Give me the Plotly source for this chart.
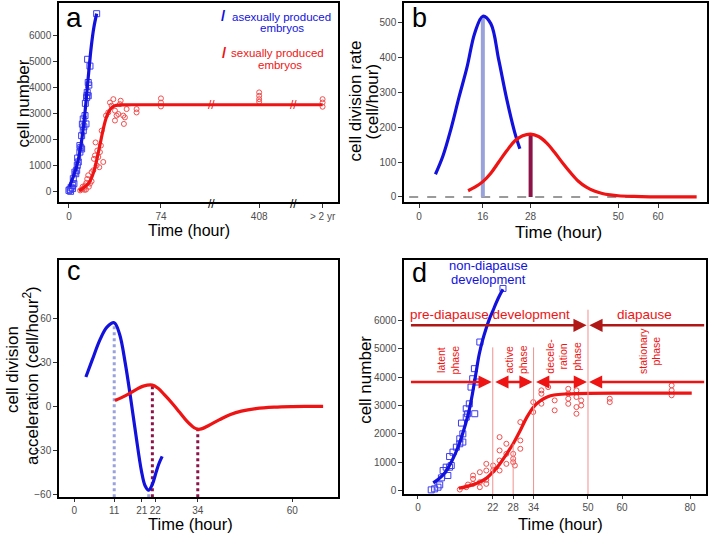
import plotly.graph_objects as go

# ---------------- data: panel a (cell number, broken time axis) ----------------
a_blue_t = [0, 0.8, 1.3, 1.8, 2.9, 3.0, 3.5, 4.0, 4.8, 5.5, 6.2, 6.7, 7.0, 7.5, 8.8, 8.8, 9.5,
            10.2, 10.2, 10.8, 11.5, 11.5, 12.0, 12.9, 13.2, 13.7, 14.2, 14.5, 14.7, 15.0, 15.5,
            15.5, 16.0, 16.9, 22.3]
a_blue_v = [60, 100, 25, 180, 130, 250, 510, 320, 760, 700, 830, 1020, 1300, 1150, 1530, 1780, 1700,
            1650, 2160, 2600, 2350, 2800, 2500, 2930, 3400, 2610, 3620, 3700, 3820, 5090, 3690,
            4200, 4100, 4830, 6840]
a_blue_fit_t = [0.5, 2, 4, 6, 8, 10, 12, 14, 16, 18, 20, 22.3]
a_blue_fit_v = [200, 400, 650, 950, 1350, 1900, 2650, 3600, 4650, 5600, 6300, 6840]

a_red_t = [9, 10.5, 11, 12, 12.5, 13, 13.7, 14, 14.7, 15.5, 16, 16.9, 18.2, 18.2, 19.6, 20.1, 20.9,
           21.4, 22.3, 22.8, 23.6, 24.4, 24.9, 25.7, 26.3, 27.6, 29.8, 31.6, 33.0, 34.3, 35.7,
           37.0, 37.0, 38.3, 39.7, 41.0, 41.6, 43.7, 44.2, 45.0, 46.4, 54.4, 54.4,
           74, 74, 74]
a_red_v = [60, 100, 200, 150, 80, 250, 90, 350, 500, 640, 200, 320, 410, 760, 830, 1270, 1400,
           1900, 1020, 1590, 1340, 950, 1530, 1780, 2350, 1150, 2930, 3050, 3430, 3310, 3560,
           2740, 3120, 2930, 2990, 3370, 3500, 2930, 2610, 2860, 3180, 3050, 3180,
           3590, 3430, 3280]
a_red_late = {"408": [3820, 3690, 3560, 3460], "> 2 yr": [3560, 3430, 3270]}
a_red_fit_t = [8, 10, 12, 14, 16, 18, 20, 22, 24, 26, 28, 30, 32, 34, 36, 38, 42, 50, 74]
a_red_fit_v = [50, 100, 170, 250, 350, 520, 780, 1150, 1600, 2050, 2500, 2850, 3080, 3220,
               3290, 3320, 3340, 3345, 3345]
a_tick_text = ["0", "74", "408", "> 2 yr"]
# display position of the late groups on the broken axis
a_late_pos = {"408": 153, "> 2 yr": 204}
a_breaks = [115, 180.5]

# ---------------- data: panel b (division rate) ----------------
b_blue_t = [4.1, 6, 8, 10, 12, 14, 16, 18, 20, 22, 24, 25.3]
b_blue_v = [65, 118, 195, 285, 370, 470, 517, 496, 392, 280, 185, 138]
b_red_t = [12.3, 14, 16, 18, 20, 22, 24, 26, 28, 30, 32, 34, 36, 38, 40, 42, 44, 46, 48, 50,
           54, 58, 62, 66, 69.7]
b_red_v = [18, 28, 44, 68, 100, 132, 160, 175, 180, 173, 155, 128, 98, 70, 45, 28, 17, 10, 6,
           3.5, 1.5, 0.5, 0.2, 0, 0]
b_ticks = [0, 16, 28, 50, 60]

# ---------------- data: panel c (acceleration) ----------------
c_blue_t = [3.2, 5, 7, 9, 11, 12.5, 14, 15.5, 17, 18.5, 19.5, 20.5, 21.5, 22.5, 23.3, 24.2]
c_blue_v = [20, 32, 45, 54, 57, 49, 30, 6, -20, -44, -54, -57, -53, -45, -39, -34]
c_red_t = [11.2, 13, 15, 17, 19, 21.5, 23, 25, 27, 29, 31, 33, 34, 35, 37, 40, 43, 46, 50, 55,
           60, 64, 68.5]
c_red_v = [4, 6, 8.5, 11.5, 13.8, 14.5, 12.5, 7.5, 2, -4, -10, -14.5, -15.5, -15.3, -13, -9,
           -5.5, -3.2, -1.5, -0.5, -0.1, 0, 0]
c_tick_vals = [0, 11, 18.6, 22.3, 34, 60]
c_tick_text = ["0", "11", "21", "22", "34", "60"]

# ---------------- data: panel d (cell number, 0-80 h) ----------------
d_blue_t = [3.9, 4.9, 5.9, 6.4, 6.9, 7.4, 8.3, 8.8, 9.3, 9.3, 9.8, 10.3, 11.3, 12.3, 12.3, 12.8,
            13.2, 13.2, 14.2, 14.2, 14.6, 15.1, 15.6, 16.1, 16.6, 16.7, 17.2, 18.2, 25.0]
d_blue_v = [24, 59, 118, 200, 448, 707, 825, 530, 825, 1200, 883, 1355, 1530, 1650, 1825, 2380,
            1710, 2000, 2590, 2885, 2710, 3060, 3650, 3945, 4300, 2710, 3830, 5240, 7130]
d_blue_fit_t = [4.5, 6, 8, 10, 12, 14, 15, 16, 17, 18, 19, 20, 21, 22, 23, 24, 25]
d_blue_fit_v = [270, 400, 640, 1050, 1600, 2350, 2800, 3400, 4100, 4800, 5300, 5700, 6050,
                6330, 6620, 6880, 7100]
d_red_t = [12.3, 14.2, 14.7, 16.2, 16.2, 16.2, 18.2, 18.2, 18.2, 20.1, 20.1, 20.1, 20.1, 22.1,
           22.1, 24, 24, 24, 24, 26, 26, 26, 28, 28, 28, 28.5, 30.1, 30.1, 30.1, 33.9, 33.9,
           36.3, 36.3, 36.3, 38.3, 40.2, 40.2, 44.2, 44.2, 44.2, 44.2, 46.6, 46.6, 46.6, 46.6,
           48, 48, 56.4, 56.4, 74.6, 74.6, 74.6]
d_red_v = [35, 118, 212, 236, 412, 530, 118, 294, 648, 377, 236, 707, 942, 883, 707, 707, 1060,
           1414, 1885, 942, 1296, 1650, 1120, 1296, 1001, 883, 1473, 1767, 2415, 3120, 2770,
           3535, 3416, 3063, 3650, 3180, 2830, 3590, 3420, 3060, 3240, 3535, 3300, 2945, 2710,
           3180, 3000, 3240, 3120, 3710, 3535, 3360]
d_red_fit_t = [12, 14, 16, 18, 20, 22, 24, 26, 28, 30, 32, 34, 36, 38, 40, 44, 50, 60, 70, 80.5]
d_red_fit_v = [80, 130, 200, 290, 420, 650, 930, 1280, 1650, 2100, 2580, 2950, 3170, 3300,
               3370, 3410, 3430, 3435, 3435, 3435]
d_ticks = [0, 22, 28, 34, 50, 60, 80]
d_phase_bounds = [22, 34]
d_inflection = 28
d_diapause_start = 50

# ---------------- style ----------------
W, H = 709, 538
FONT = "Liberation Sans, Arial, sans-serif"
BLUE = "#1212dc"
RED = "#ee1414"
BLUE_PT = "#3c3cf0"
RED_PT = "#f05050"
LAV = "#9aa2dc"
PLUM = "#8c1248"
DARKRED = "#b01818"
PINK = "#f29090"


def PX(x):
    return x / W


def PY(y):
    return 1 - y / H


def ax_style(**kw):
    d = dict(showline=True, linecolor="black", linewidth=1.5, mirror=True, ticks="outside",
             ticklen=4, tickwidth=1, tickcolor="#333", showgrid=False, zeroline=False, tickangle=0,
             tickfont=dict(family=FONT, size=10, color="#4d4d4d"), fixedrange=True)
    d.update(kw)
    return d


fig = go.Figure()


def line(x, y, color, xa, ya, width=3.2):
    fig.add_trace(go.Scatter(x=x, y=y, mode="lines", line=dict(color=color, width=width, shape="spline"),
                             xaxis=xa, yaxis=ya, hoverinfo="skip"))


def pts(x, y, color, sym, size, xa, ya):
    fig.add_trace(go.Scatter(x=x, y=y, mode="markers",
                             marker=dict(symbol=sym, size=size, color=color, line=dict(width=1, color=color)),
                             xaxis=xa, yaxis=ya, hoverinfo="skip"))


# ----- panel a -----
late_x, late_y = [], []
for k, vals in a_red_late.items():
    late_x += [a_late_pos[k]] * len(vals)
    late_y += vals
pts(a_blue_t, a_blue_v, BLUE_PT, "square-open", 6, "x", "y")
pts(a_red_t + late_x, a_red_v + late_y, RED_PT, "circle-open", 5, "x", "y")
line(a_blue_fit_t, a_blue_fit_v, BLUE, "x", "y")
line(a_red_fit_t + list(a_late_pos.values()), a_red_fit_v + [a_red_fit_v[-1]] * 2, RED, "x", "y")

# ----- panel b -----
peak_b_blue = b_blue_v.index(max(b_blue_v))
peak_b_red = b_red_v.index(max(b_red_v))
fig.add_trace(go.Scatter(x=[-2.5, 57], y=[0, 0], mode="lines", line=dict(color="#9a9a9a", width=2, dash="dash"),
                         xaxis="x2", yaxis="y2", hoverinfo="skip"))
fig.add_trace(go.Scatter(x=[b_blue_t[peak_b_blue]] * 2, y=[0, b_blue_v[peak_b_blue]], mode="lines",
                         line=dict(color=LAV, width=4), xaxis="x2", yaxis="y2", hoverinfo="skip"))
fig.add_trace(go.Scatter(x=[b_red_t[peak_b_red]] * 2, y=[0, b_red_v[peak_b_red]], mode="lines",
                         line=dict(color=PLUM, width=4), xaxis="x2", yaxis="y2", hoverinfo="skip"))
line(b_blue_t, b_blue_v, BLUE, "x2", "y2")
line(b_red_t, b_red_v, RED, "x2", "y2")

# ----- panel c -----
c_bottom = -61.8
ib_max, ib_min = c_blue_v.index(max(c_blue_v)), c_blue_v.index(min(c_blue_v))
ir_max, ir_min = c_red_v.index(max(c_red_v)), c_red_v.index(min(c_red_v))
for (tt, vv, col) in [(c_blue_t[ib_max], c_blue_v[ib_max], LAV), (c_blue_t[ib_min], c_blue_v[ib_min], LAV),
                      (c_red_t[ir_max], c_red_v[ir_max], PLUM), (c_red_t[ir_min], c_red_v[ir_min], PLUM)]:
    fig.add_trace(go.Scatter(x=[tt, tt], y=[c_bottom, vv], mode="lines", line=dict(color=col, width=3, dash="dot"),
                             xaxis="x3", yaxis="y3", hoverinfo="skip"))
line(c_blue_t, c_blue_v, BLUE, "x3", "y3")
line(c_red_t, c_red_v, RED, "x3", "y3")

# ----- panel d -----
d_bottom = -130
for b in d_phase_bounds:
    fig.add_shape(type="line", x0=b, x1=b, y0=d_bottom, y1=5050, xref="x4", yref="y4",
                  line=dict(color=PINK, width=1))
infl_v = d_red_fit_v[d_red_fit_t.index(d_inflection)]
fig.add_shape(type="line", x0=d_inflection, x1=d_inflection, y0=d_bottom, y1=infl_v, xref="x4", yref="y4",
              line=dict(color=PINK, width=1))
fig.add_shape(type="line", x0=d_diapause_start, x1=d_diapause_start, y0=d_bottom, y1=6380, xref="x4",
              yref="y4", line=dict(color=PINK, width=1))
pts(d_blue_t, d_blue_v, BLUE_PT, "square-open", 6, "x4", "y4")
pts(d_red_t, d_red_v, RED_PT, "circle-open", 5, "x4", "y4")
line(d_blue_fit_t, d_blue_fit_v, BLUE, "x4", "y4")
line(d_red_fit_t, d_red_fit_v, RED, "x4", "y4")

ann = []


def txt(x, y, s, size, color="black", xref="paper", yref="paper", angle=0, xanchor="center",
        yanchor="middle", align="center"):
    ann.append(dict(x=x, y=y, text=s, xref=xref, yref=yref, showarrow=False, textangle=angle,
                    xanchor=xanchor, yanchor=yanchor, align=align,
                    font=dict(family=FONT, size=size, color=color)))


def arrow(x_from, x_to, y, color, both=False):
    ann.append(dict(x=x_to, y=y, ax=x_from, ay=y, xref="x4", yref="y4", axref="x4", ayref="y4",
                    text="", showarrow=True, arrowhead=2, arrowsize=1.1, arrowwidth=2.4,
                    arrowcolor=color, arrowside="end+start" if both else "end",
                    standoff=0, startstandoff=0))


# titles
txt(PX(189), PY(232), "Time (hour)", 16)
txt(PX(558), PY(234), "Time (hour)", 17)
txt(PX(190), PY(527), "Time (hour)", 16.5)
txt(PX(560), PY(527), "Time (hour)", 16.5)
txt(PX(23), PY(104), "cell number", 17, angle=-90)
txt(PX(355), PY(102), "cell division rate", 17, angle=-90)
txt(PX(372), PY(102), "(cell/hour)", 17, angle=-90)
txt(PX(13), PY(372), "cell division", 17, angle=-90)
txt(PX(31), PY(378), "acceleration (cell/hour<sup>2</sup>)", 17, angle=-90)
txt(PX(366), PY(382), "cell number", 17, angle=-90)
# panel letters
txt(PX(64), PY(18), "a", 28, xanchor="left")
txt(PX(410), PY(18), "b", 27, xanchor="left")
txt(PX(65), PY(273), "c", 27, xanchor="left")
txt(PX(410), PY(275), "d", 27, xanchor="left")
# legend in a
txt(PX(223.5), PY(16), "<b>/</b>", 15, BLUE)
txt(PX(281), PY(17), "asexually produced", 11.5, BLUE)
txt(PX(281.5), PY(28), "embryos", 11.5, BLUE)
txt(PX(224), PY(53), "<b>/</b>", 15, RED)
txt(PX(277.5), PY(53.5), "sexually produced", 11.5, RED)
txt(PX(280), PY(65), "embryos", 11.5, RED)
# axis breaks in a
for bx in a_breaks:
    txt(bx, PY(205), "//", 12, "black", xref="x")
    txt(bx, a_red_fit_v[-1], "//", 12, RED, xref="x", yref="y")
# panel d texts
txt(20.8, 7925, "non-diapause", 13, BLUE, xref="x4", yref="y4")
txt(20.8, 7440, "development", 13, BLUE, xref="x4", yref="y4")
txt(21.1, 6210, "pre-diapause development", 13.5, RED, xref="x4", yref="y4")
txt(66.6, 6210, "diapause", 13.5, RED, xref="x4", yref="y4")
for (tx, s) in [(8.8, "latent<br>phase"), (28.7, "active<br>phase"), (42.7, "decele-<br>ration<br>phase"),
                (68.2, "stationary<br>phase")]:
    txt(tx, 4040, s, 10.5, RED, xref="x4", yref="y4", angle=-90, yanchor="bottom")
# arrows in d
arrow(-2.5, d_diapause_start - 0.4, 5830, DARKRED)
arrow(84.6, d_diapause_start + 0.4, 5830, DARKRED)
arrow(-2.5, d_phase_bounds[0] - 0.3, 3830, RED)
arrow(d_phase_bounds[0] + 0.3, d_phase_bounds[1] - 0.3, 3830, RED, both=True)
arrow(d_phase_bounds[1] + 0.3, d_diapause_start - 0.3, 3830, RED, both=True)
arrow(84.6, d_diapause_start + 0.3, 3830, RED)

fig.update_layout(
    width=W, height=H, margin=dict(l=0, r=0, t=0, b=0), showlegend=False,
    paper_bgcolor="white", plot_bgcolor="white", font=dict(family=FONT),
    xaxis=ax_style(domain=[PX(59), PX(338)], range=[-8, 216.4], anchor="y", tickmode="array",
                   tickvals=[0, 74] + list(a_late_pos.values()), ticktext=a_tick_text),
    yaxis=ax_style(domain=[PY(203), PY(3)], range=[-380, 7250], anchor="x", tickmode="array",
                   tickvals=[0, 1000, 2000, 3000, 4000, 5000, 6000]),
    xaxis2=ax_style(domain=[PX(404), PX(707)], range=[-3.8, 72.3], anchor="y2", tickmode="array",
                    tickvals=b_ticks),
    yaxis2=ax_style(domain=[PY(203), PY(3)], range=[-14, 555], anchor="x2", tickmode="array",
                    tickvals=[0, 100, 200, 300, 400, 500]),
    xaxis3=ax_style(domain=[PX(59), PX(338)], range=[-4.2, 72.6], anchor="y3", tickmode="array",
                    tickvals=c_tick_vals, ticktext=c_tick_text, ticklen=3),
    yaxis3=ax_style(domain=[PY(500), PY(261)], range=[c_bottom, 100], anchor="x3", tickmode="array",
                    tickvals=[-60, -30, 0, 30, 60]),
    xaxis4=ax_style(domain=[PX(404), PX(706)], range=[-4.1, 84.7], anchor="y4", tickmode="array",
                    tickvals=d_ticks, ticklen=3),
    yaxis4=ax_style(domain=[PY(497), PY(261)], range=[d_bottom, 8150], anchor="x4", tickmode="array",
                    tickvals=[0, 1000, 2000, 3000, 4000, 5000, 6000]),
    annotations=ann,
)
fig.write_html("out.html", config={"displayModeBar": False},
               post_script="document.body.style.margin='0';")
